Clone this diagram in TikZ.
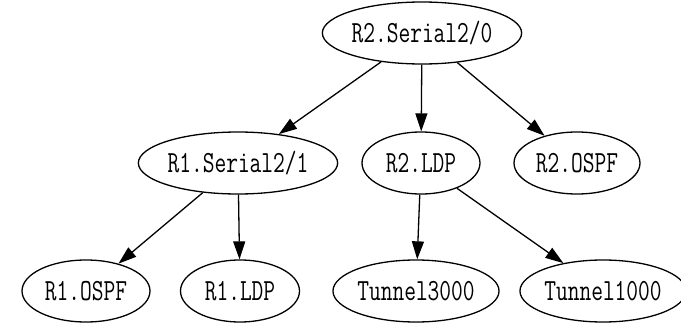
\documentclass[tikz,border=0pt]{standalone}
\usepackage{graphicx}
\usetikzlibrary{shapes.geometric,arrows.meta}
\newcommand\lbl[1]{\scalebox{1}[1.35]{\ttfamily\fontsize{22.8}{22.8}\selectfont #1}}
\tikzset{
  gnode/.style={ellipse, draw, line width=1.3pt, inner sep=0pt, minimum height=62pt},
  gedge/.style={line width=1.3pt, -{Triangle[length=18pt,width=12pt]}}
}
\begin{document}
\begin{tikzpicture}[x=1pt,y=-1pt]
\useasboundingbox (0,0) rectangle (681,324);
\node[gnode, minimum width=190pt] (s20) at (422,33) {\lbl{R2.Serial2/0}};
\node[gnode, minimum width=190pt] (r1s21) at (238,163) {\lbl{R1.Serial2/1}};
\node[gnode, minimum width=118pt] (r2ldp) at (421,163) {\lbl{R2.LDP}};
\node[gnode, minimum width=126pt] (r2ospf) at (577,163) {\lbl{R2.OSPF}};
\node[gnode, minimum width=128pt] (r1ospf) at (86,291) {\lbl{R1.OSPF}};
\node[gnode, minimum width=119pt] (r1ldp) at (240,291) {\lbl{R1.LDP}};
\node[gnode, minimum width=160pt] (t3) at (416,291) {\lbl{Tunnel3000}};
\node[gnode, minimum width=154pt] (t1) at (603,291) {\lbl{Tunnel1000}};
\draw[gedge] (s20) -- (r1s21);
\draw[gedge] (s20) -- (r2ldp);
\draw[gedge] (s20) -- (r2ospf);
\draw[gedge] (r1s21) -- (r1ospf);
\draw[gedge] (r1s21) -- (r1ldp);
\draw[gedge] (r2ldp) -- (t3);
\draw[gedge] (r2ldp) -- (t1);
\end{tikzpicture}
\end{document}
